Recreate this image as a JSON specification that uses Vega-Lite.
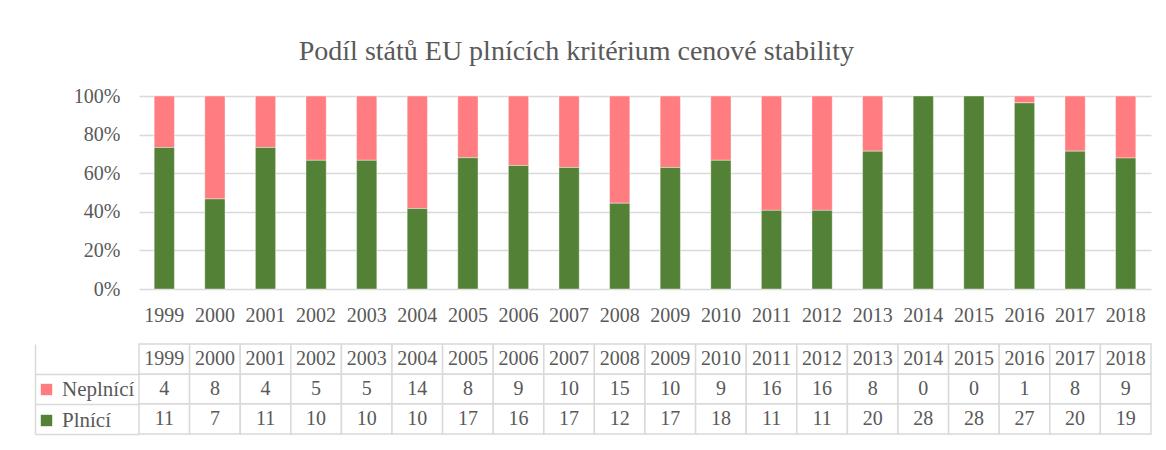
{
  "$schema": "https://vega.github.io/schema/vega-lite/v6.json",
  "padding": {"left": 1, "top": 38, "right": 5, "bottom": 5},
  "background": "#ffffff",
  "title": {
    "text": "Podíl států EU plnících kritérium cenové stability",
    "font": "Liberation Serif",
    "fontSize": 28,
    "fontWeight": "normal",
    "color": "#595959",
    "anchor": "middle",
    "offset": 20
  },
  "config": {
    "view": {"stroke": null},
    "font": "Liberation Serif",
    "text": {"font": "Liberation Serif"}
  },
  "data": {
    "values": [
      {"rok": "1999", "stav": "Neplnící", "pocet": 4},
      {"rok": "2000", "stav": "Neplnící", "pocet": 8},
      {"rok": "2001", "stav": "Neplnící", "pocet": 4},
      {"rok": "2002", "stav": "Neplnící", "pocet": 5},
      {"rok": "2003", "stav": "Neplnící", "pocet": 5},
      {"rok": "2004", "stav": "Neplnící", "pocet": 14},
      {"rok": "2005", "stav": "Neplnící", "pocet": 8},
      {"rok": "2006", "stav": "Neplnící", "pocet": 9},
      {"rok": "2007", "stav": "Neplnící", "pocet": 10},
      {"rok": "2008", "stav": "Neplnící", "pocet": 15},
      {"rok": "2009", "stav": "Neplnící", "pocet": 10},
      {"rok": "2010", "stav": "Neplnící", "pocet": 9},
      {"rok": "2011", "stav": "Neplnící", "pocet": 16},
      {"rok": "2012", "stav": "Neplnící", "pocet": 16},
      {"rok": "2013", "stav": "Neplnící", "pocet": 8},
      {"rok": "2014", "stav": "Neplnící", "pocet": 0},
      {"rok": "2015", "stav": "Neplnící", "pocet": 0},
      {"rok": "2016", "stav": "Neplnící", "pocet": 1},
      {"rok": "2017", "stav": "Neplnící", "pocet": 8},
      {"rok": "2018", "stav": "Neplnící", "pocet": 9},
      {"rok": "1999", "stav": "Plnící", "pocet": 11},
      {"rok": "2000", "stav": "Plnící", "pocet": 7},
      {"rok": "2001", "stav": "Plnící", "pocet": 11},
      {"rok": "2002", "stav": "Plnící", "pocet": 10},
      {"rok": "2003", "stav": "Plnící", "pocet": 10},
      {"rok": "2004", "stav": "Plnící", "pocet": 10},
      {"rok": "2005", "stav": "Plnící", "pocet": 17},
      {"rok": "2006", "stav": "Plnící", "pocet": 16},
      {"rok": "2007", "stav": "Plnící", "pocet": 17},
      {"rok": "2008", "stav": "Plnící", "pocet": 12},
      {"rok": "2009", "stav": "Plnící", "pocet": 17},
      {"rok": "2010", "stav": "Plnící", "pocet": 18},
      {"rok": "2011", "stav": "Plnící", "pocet": 11},
      {"rok": "2012", "stav": "Plnící", "pocet": 11},
      {"rok": "2013", "stav": "Plnící", "pocet": 20},
      {"rok": "2014", "stav": "Plnící", "pocet": 28},
      {"rok": "2015", "stav": "Plnící", "pocet": 28},
      {"rok": "2016", "stav": "Plnící", "pocet": 27},
      {"rok": "2017", "stav": "Plnící", "pocet": 20},
      {"rok": "2018", "stav": "Plnící", "pocet": 19}
    ]
  },
  "resolve": {"scale": {"x": "independent"}, "legend": {"color": "independent"}},
  "spacing": 18,
  "vconcat": [
    {
      "width": 1012,
      "height": 193,
      "mark": {"type": "bar", "stroke": "#ffffff", "strokeOpacity": 0.4, "strokeWidth": 1},
      "encoding": {
        "x": {
          "field": "rok",
          "type": "nominal",
          "scale": {"paddingInner": 0.6, "paddingOuter": 0.3},
          "axis": {
            "title": null,
            "labelAngle": 0,
            "ticks": false,
            "domain": false,
            "labelPadding": 16,
            "labelFont": "Liberation Serif",
            "labelFontSize": 20,
            "labelColor": "#595959"
          }
        },
        "y": {
          "field": "pocet",
          "type": "quantitative",
          "stack": "normalize",
          "scale": {"domain": [0, 1]},
          "axis": {
            "title": null,
            "format": ".0%",
            "values": [0, 0.2, 0.4, 0.6, 0.8, 1],
            "ticks": false,
            "domain": false,
            "gridColor": "#d9d9d9",
            "gridWidth": 1.5,
            "labelPadding": 19,
            "labelFont": "Liberation Serif",
            "labelFontSize": 20,
            "labelColor": "#595959"
          }
        },
        "color": {
          "field": "stav",
          "type": "nominal",
          "scale": {"domain": ["Neplnící", "Plnící"], "range": ["#FF7C80", "#538135"]},
          "legend": null
        },
        "order": {"field": "stav", "sort": "descending"}
      }
    },
    {
      "width": 1012,
      "height": 90,
      "encoding": {
        "x": {
          "field": "rok",
          "type": "nominal",
          "scale": {"paddingInner": 0, "paddingOuter": 0},
          "axis": null
        }
      },
      "layer": [
        {
          "mark": {"type": "rect", "fill": "#ffffff", "stroke": "#d9d9d9", "strokeWidth": 1.5},
          "encoding": {
            "y": {
              "field": "stav",
              "type": "nominal",
              "scale": {"domain": ["rok", "Neplnící", "Plnící"], "paddingInner": 0, "paddingOuter": 0},
              "axis": {
                "title": null,
                "labels": false,
                "grid": false,
                "domain": true,
                "domainColor": "#d9d9d9",
                "domainWidth": 1.5,
                "offset": 104,
                "ticks": true,
                "tickSize": -104,
                "tickColor": "#d9d9d9",
                "tickWidth": 1.5,
                "bandPosition": 1
              }
            }
          }
        },
        {
          "transform": [{"filter": "datum.stav === 'Plnící'"}],
          "mark": {"type": "rect", "fill": "#ffffff", "stroke": "#d9d9d9", "strokeWidth": 1.5},
          "encoding": {
            "y": {"datum": "rok", "type": "nominal"}
          }
        },
        {
          "transform": [{"filter": "datum.stav === 'Plnící'"}],
          "mark": {"type": "text", "font": "Liberation Serif", "fontSize": 20, "color": "#595959", "baseline": "middle"},
          "encoding": {
            "y": {"datum": "rok", "type": "nominal"},
            "text": {"field": "rok"}
          }
        },
        {
          "mark": {"type": "text", "font": "Liberation Serif", "fontSize": 20, "color": "#595959", "baseline": "middle"},
          "encoding": {
            "y": {"field": "stav", "type": "nominal"},
            "text": {"field": "pocet", "type": "quantitative"}
          }
        },
        {
          "mark": {"type": "point", "shape": "square", "filled": true, "opacity": 0},
          "encoding": {
            "y": {"field": "stav", "type": "nominal"},
            "color": {
              "field": "stav",
              "type": "nominal",
              "legend": {
                "orient": "left",
                "title": null,
                "symbolType": "square",
                "symbolSize": 130,
                "symbolStrokeWidth": 0,
                "symbolOpacity": 1,
                "labelFont": "Liberation Serif",
                "labelFontSize": 21,
                "labelColor": "#595959",
                "labelOffset": 5,
                "rowPadding": 9,
                "padding": 35,
                "offset": -136
              }
            }
          }
        }
      ]
    }
  ]
}
